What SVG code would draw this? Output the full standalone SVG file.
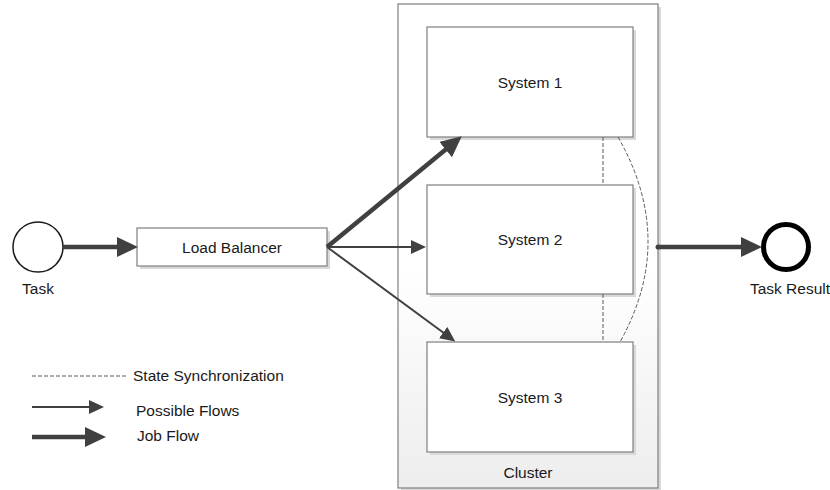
<svg xmlns="http://www.w3.org/2000/svg" width="830" height="490" viewBox="0 0 830 490">
<style>
text{font-family:"Liberation Sans",Arial,sans-serif;font-size:15.5px;fill:#1a1a1a}
.c{text-anchor:middle}
.box{fill:#fff;stroke:#7f7f7f;stroke-width:1.2}
.sh{fill:#d9d9d9}
.thick{fill:none;stroke:#404040;stroke-width:4.5}
.thin{fill:none;stroke:#404040;stroke-width:2}
.dash{fill:none;stroke:#595959;stroke-width:1;stroke-dasharray:4 2}
</style>
<defs>
<linearGradient id="cg" x1="0" y1="0" x2="0" y2="1">
<stop offset="0" stop-color="#ffffff"/>
<stop offset="0.55" stop-color="#ffffff"/>
<stop offset="1" stop-color="#ededed"/>
</linearGradient>
<marker id="ah" markerUnits="userSpaceOnUse" markerWidth="22" markerHeight="22" refX="10" refY="10" orient="auto">
<path d="M0,0 L21,10 L0,20 z" fill="#404040"/>
</marker>
<marker id="at" markerUnits="userSpaceOnUse" markerWidth="16" markerHeight="16" refX="8" refY="7" orient="auto">
<path d="M0,0 L15,7 L0,14 z" fill="#404040"/>
</marker>
</defs>
<g id="cluster">
<rect x="401" y="7" width="260" height="484" class="sh"/>
<rect x="398" y="4" width="260" height="484" fill="url(#cg)" stroke="#7f7f7f" stroke-width="1.2"/>
<text x="528" y="478" class="c">Cluster</text>
</g>
<g id="task">
<circle cx="38" cy="247" r="25" fill="#fff" stroke="#1a1a1a" stroke-width="1.5"/>
<text x="38" y="294" class="c">Task</text>
</g>
<g id="load-balancer">
<rect x="140" y="231" width="190" height="38" class="sh"/>
<rect x="137" y="228" width="190" height="38" class="box"/>
<text x="232" y="253" class="c">Load Balancer</text>
</g>
<g id="system1">
<rect x="430" y="30" width="206" height="110" class="sh"/>
<rect x="427" y="27" width="206" height="110" class="box"/>
<text x="530" y="88" class="c">System 1</text>
</g>
<g id="system2">
<rect x="430" y="188" width="206" height="109" class="sh"/>
<rect x="427" y="185" width="206" height="109" class="box"/>
<text x="530" y="245" class="c">System 2</text>
</g>
<g id="system3">
<rect x="430" y="345" width="206" height="110" class="sh"/>
<rect x="427" y="342" width="206" height="110" class="box"/>
<text x="530" y="403" class="c">System 3</text>
</g>
<g id="task-result">
<circle cx="786" cy="247" r="22.5" fill="#fff" stroke="#000" stroke-width="5"/>
<text x="790" y="294" class="c">Task Result</text>
</g>
<g id="connectors">
<line x1="63" y1="247" x2="127" y2="247" class="thick" marker-end="url(#ah)"/>
<line x1="327" y1="247" x2="453.3" y2="143.3" class="thick" marker-end="url(#ah)"/>
<line x1="327" y1="247" x2="419" y2="247" class="thin" marker-end="url(#at)"/>
<line x1="327" y1="247" x2="449.6" y2="337.3" class="thin" marker-end="url(#at)"/>
<circle cx="658" cy="247" r="2.5" fill="#404040"/>
<line x1="658" y1="247" x2="751" y2="247" class="thick" marker-end="url(#ah)"/>
<line x1="603" y1="137" x2="603" y2="185" class="dash"/>
<line x1="603" y1="294" x2="603" y2="342" class="dash"/>
<path d="M618,137 Q677,240 620,342" class="dash"/>
</g>
<g id="legend">
<line x1="32" y1="376" x2="128" y2="376" class="dash" stroke="#7f7f7f"/>
<text x="133" y="381">State Synchronization</text>
<line x1="32" y1="407" x2="97" y2="407" class="thin" marker-end="url(#at)"/>
<text x="136" y="416">Possible Flows</text>
<line x1="32" y1="437" x2="95" y2="437" class="thick" marker-end="url(#ah)"/>
<text x="137" y="441">Job Flow</text>
</g>
</svg>
